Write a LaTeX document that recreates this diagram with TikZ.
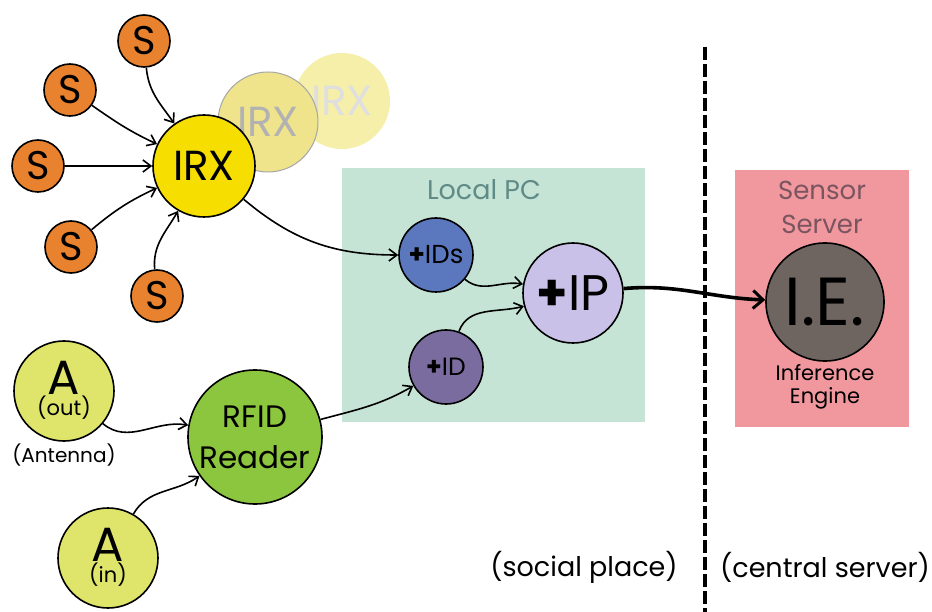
\documentclass[tikz,border=0pt]{standalone}
\usepackage{fontspec}
\setmainfont{Poppins}
\usetikzlibrary{arrows.meta}
\definecolor{sorange}{HTML}{E8822E}
\definecolor{irxyellow}{HTML}{F6DE00}
\definecolor{ghostA}{HTML}{EFE48C}
\definecolor{ghostB}{HTML}{F5EFAA}
\definecolor{pcgreen}{HTML}{C6E4D6}
\definecolor{pctext}{HTML}{5F8A86}
\definecolor{idsblue}{HTML}{5B78BF}
\definecolor{iplav}{HTML}{C9C1E8}
\definecolor{idpurple}{HTML}{7B6C9F}
\definecolor{srvpink}{HTML}{F1979E}
\definecolor{srvtext}{HTML}{7A5560}
\definecolor{iegray}{HTML}{6E6460}
\definecolor{antyellow}{HTML}{DEE56A}
\definecolor{rfidgreen}{HTML}{8CC63E}
\tikzset{
  ball/.style={circle, draw=black, line width=1.6pt, inner sep=0pt, align=center},
  sensor/.style={ball, fill=sorange, minimum size=52pt, font=\fontsize{40}{40}\selectfont},
  antenna/.style={ball, fill=antyellow, minimum size=100pt},
  bigletter/.style={inner sep=0pt, font=\fontsize{48}{48}\selectfont, text height=34pt, text depth=0pt},
  direction/.style={inner sep=0pt, font=\fontsize{21}{21}\selectfont, text height=16pt, text depth=4pt},
  conn/.style={line width=1.6pt, -{Straight Barb[length=8pt,width=12pt,line width=1.6pt]}},
  bigconn/.style={line width=3.6pt, -{Straight Barb[length=10pt,width=18pt,line width=3pt]}},
  plain/.style={inner sep=0pt, align=center}
}
\begin{document}
\begin{tikzpicture}[x=1pt,y=-1pt]
\useasboundingbox (0,0) rectangle (932,612);

% background areas
\fill[pcgreen] (342,168) rectangle (645,422);
\fill[srvpink] (735,170) rectangle (909,427);
\node[plain, text=pctext, font=\fontsize{27}{27}\selectfont] (pclabel) at (484,190) {Local PC};
\node[plain, text=srvtext, font=\fontsize{26}{34}\selectfont] (srvlabel) at (822,207) {Sensor\\Server};

% tier separator
\draw[line width=4pt, dash pattern=on 13pt off 4pt] (705,47) -- (705,612);

% faded copies of the receiver
\node[circle, inner sep=0pt, minimum size=96pt, fill=ghostB, text=gray!25,
      font=\fontsize{42}{42}\selectfont] (ghost2) at (342,101) {IRX};
\node[circle, inner sep=0pt, minimum size=100pt, fill=ghostA, draw=gray!70, line width=1pt,
      text=gray!60, font=\fontsize{42}{42}\selectfont] (ghost1) at (268,122) {IRX};

% sensors and receiver
\node[ball, fill=irxyellow, minimum size=102pt, font=\fontsize{42}{42}\selectfont] (irx) at (204,166) {IRX};
\node[sensor] (s1) at (144,41) {S};
\node[sensor] (s2) at (70,90) {S};
\node[sensor] (s3) at (38,166) {S};
\node[sensor] (s4) at (71,247) {S};
\node[sensor] (s5) at (157,296) {S};

% RFID side: antenna circles, letter and direction stacked
\node[antenna] (aout) at (64,391) {};
\node[bigletter] (aoutA) at (64,377) {A};
\node[direction] (aoutdir) at (64,409) {(out)};
\node[plain, font=\fontsize{20}{20}\selectfont] (antlabel) at (64,455) {(Antenna)};
\node[antenna] (ain) at (108,558) {};
\node[bigletter] (ainA) at (108,544) {A};
\node[direction] (aindir) at (108,576) {(in)};
\node[ball, fill=rfidgreen, minimum size=134pt, font=\fontsize{31}{41}\selectfont] (rfid) at (255,437) {RFID\\Reader};

% local PC
\node[ball, fill=idsblue, minimum size=74pt, font=\fontsize{26}{26}\selectfont] (ids) at (436,255) {\textbf{+}IDs};
\node[ball, fill=idpurple, minimum size=74pt, font=\fontsize{25}{25}\selectfont] (id) at (446,367) {\textbf{+}ID};
\node[ball, fill=iplav, minimum size=100pt, font=\fontsize{50}{50}\selectfont] (ip) at (573,293) {\textbf{+}IP};

% sensor server
\node[ball, fill=iegray, minimum size=118pt, font=\fontsize{68}{68}\selectfont] (ie) at (825,302) {I.E.};
\node[plain, font=\fontsize{21}{23}\selectfont] (ielabel) at (825,387) {Inference\\Engine};

% place captions
\node[plain, font=\fontsize{27}{27}\selectfont] (social) at (584,567) {(social place)};
\node[plain, font=\fontsize{27}{27}\selectfont] (central) at (825,567) {(central server)};

% connectors
\draw[conn] (s1) to[out=-85, in=125] (irx);
\draw[conn] (s2) to[out=-35, in=155] (irx);
\draw[conn] (s3) -- (irx);
\draw[conn] (s4) to[out=40, in=-155] (irx);
\draw[conn] (s5) to[out=95, in=-120] (irx);
\draw[conn] (irx) to[out=-40, in=180] (ids);
\draw[conn] (ids) to[out=-40, in=170] (ip);
\draw[conn] (id) to[out=70, in=195] (ip);
\draw[conn] (aout) to[out=-40, in=170] (rfid);
\draw[conn] (ain) to[out=60, in=-145] (rfid);
\draw[conn] (rfid) to[out=15, in=-150] (id);
\draw[bigconn] (ip) to[out=5, in=178] (ie);
\end{tikzpicture}
\end{document}
